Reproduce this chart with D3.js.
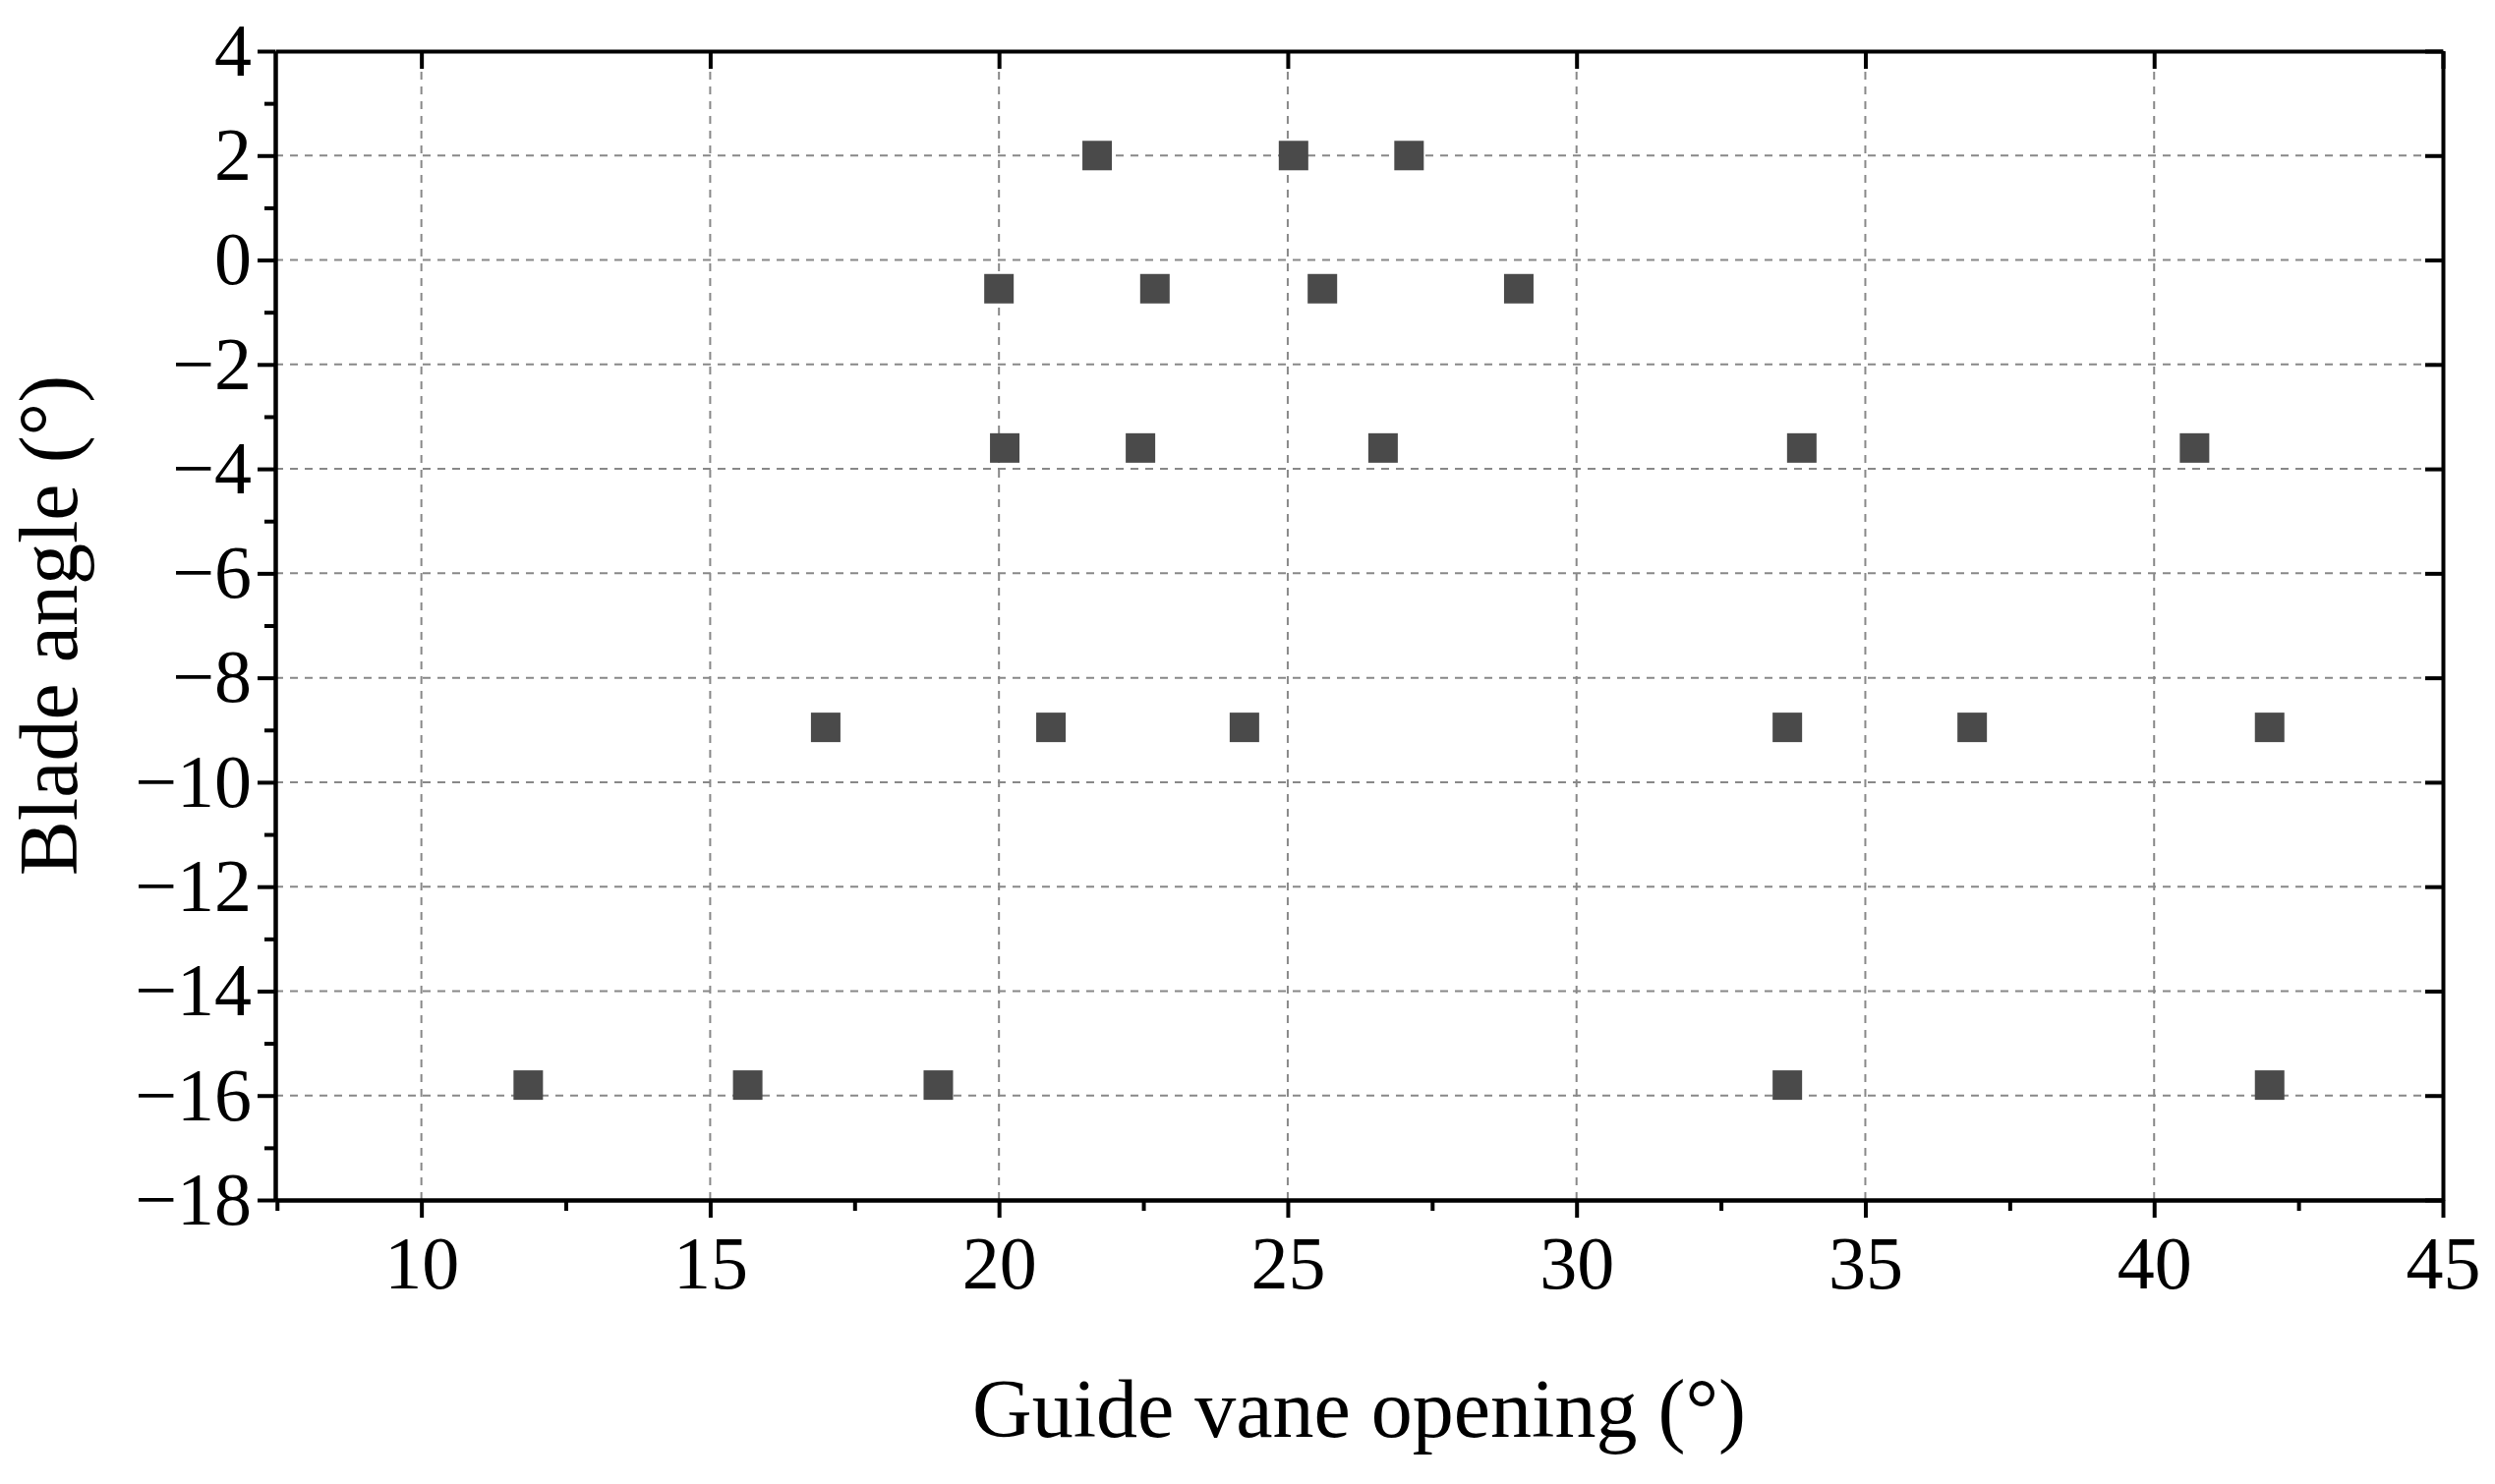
<!DOCTYPE html>
<html><head><meta charset="utf-8">
<script src="https://cdn.jsdelivr.net/npm/d3@7"></script>
<style>body{margin:0;background:#fff}svg text{font-family:"Liberation Serif","Times New Roman",serif}</style>
</head><body><div id="chart"></div>
<script>
const xVals = [21.7, 25.1, 27.1, 20.0, 22.7, 25.6, 29.0, 20.1, 22.45, 26.65, 33.9, 40.7, 17.0, 20.9, 24.25, 33.65, 36.85, 42.0, 11.85, 15.65, 18.95, 33.65, 42.0];
const yVals = [2, 2, 2, -0.55, -0.55, -0.55, -0.55, -3.6, -3.6, -3.6, -3.6, -3.6, -8.95, -8.95, -8.95, -8.95, -8.95, -8.95, -15.8, -15.8, -15.8, -15.8, -15.8];
const xTicks = [10, 15, 20, 25, 30, 35, 40, 45];
const yTicks = [4, 2, 0, -2, -4, -6, -8, -10, -12, -14, -16, -18];

const W = 2538, H = 1510;
const m = {l: 280, r: 2538 - 2485, t: 52, b: 1510 - 1221};
const svg = d3.select("#chart").append("svg").attr("width", W).attr("height", H);
const x = d3.scaleLinear().domain([7.47, 45]).range([m.l, W - m.r]);
const y = d3.scaleLinear().domain([-18, 4]).range([H - m.b, m.t]);
const fmt = d => (d < 0 ? "\u2212" + Math.abs(d) : d);

// grid
svg.append("g").selectAll("line").data(xTicks.filter(d => d < 45)).enter().append("line")
  .attr("x1", d => x(d)).attr("x2", d => x(d)).attr("y1", y(-18)).attr("y2", y(4))
  .attr("stroke", "#888").attr("stroke-width", 2).attr("stroke-dasharray", "8,7");
svg.append("g").selectAll("line").data(yTicks.filter(d => d > -18 && d < 4)).enter().append("line")
  .attr("x1", x(7.47)).attr("x2", x(45)).attr("y1", d => y(d)).attr("y2", d => y(d))
  .attr("stroke", "#888").attr("stroke-width", 2).attr("stroke-dasharray", "8,7");

// minor ticks
const xMinor = d3.range(7.5, 45, 2.5).filter(d => d % 5 !== 0);
const yMinor = d3.range(-17, 4, 2);

svg.append("g").attr("transform", `translate(0,${y(-18)})`)
  .call(d3.axisBottom(x).tickValues(xTicks).tickFormat(fmt).tickSize(18).tickPadding(18).tickSizeOuter(0));
svg.append("g").attr("transform", `translate(0,${y(-18)})`)
  .call(d3.axisBottom(x).tickValues(xMinor).tickFormat("").tickSize(11).tickSizeOuter(0));
svg.append("g").attr("transform", `translate(${x(7.47)},0)`)
  .call(d3.axisLeft(y).tickValues(yTicks).tickFormat(fmt).tickSize(18).tickPadding(6).tickSizeOuter(0));
svg.append("g").attr("transform", `translate(${x(7.47)},0)`)
  .call(d3.axisLeft(y).tickValues(yMinor).tickFormat("").tickSize(11).tickSizeOuter(0));
svg.append("g").attr("transform", `translate(0,${y(4)})`)
  .call(d3.axisBottom(x).tickValues(xTicks).tickFormat("").tickSize(18).tickSizeOuter(0));
svg.append("g").attr("transform", `translate(${x(45)},0)`)
  .call(d3.axisLeft(y).tickValues(yTicks).tickFormat("").tickSize(18).tickSizeOuter(0));

svg.selectAll(".domain, .tick line").attr("stroke", "#000").attr("stroke-width", 4);
svg.selectAll(".tick text").attr("font-size", 76).attr("fill", "#000")
  .style("font-family", "'Liberation Serif', serif");

// points
const s = 30;
svg.append("g").selectAll("rect").data(xVals.map((v, i) => [v, yVals[i]])).enter().append("rect")
  .attr("x", d => x(d[0]) - s / 2).attr("y", d => y(d[1]) - s / 2)
  .attr("width", s).attr("height", s).attr("fill", "#4a4a4a");

svg.append("text").attr("x", (x(7.47) + x(45)) / 2).attr("y", 1462).attr("text-anchor", "middle")
  .attr("font-size", 84).text("Guide vane opening (\u00b0)");
svg.append("text").attr("transform", `translate(78,${(y(4) + y(-18)) / 2}) rotate(-90)`)
  .attr("text-anchor", "middle").attr("font-size", 84).text("Blade angle (\u00b0)");
</script></body></html>
